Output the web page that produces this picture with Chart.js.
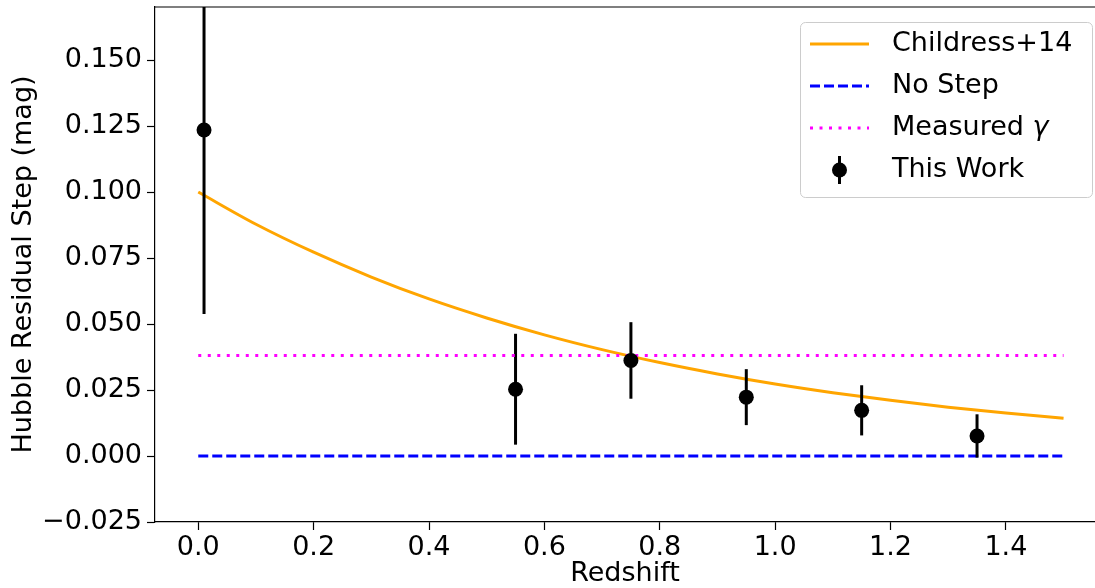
<!DOCTYPE html>
<html>
<head>
<meta charset="utf-8">
<title>Hubble Residual Step vs Redshift</title>
<script src="https://cdn.jsdelivr.net/npm/chart.js@4.4.1/dist/chart.umd.min.js"></script>
<style>
  html, body { margin: 0; padding: 0; background: #fff; overflow: hidden; }
  #wrap { width: 1095px; height: 588px; }
</style>
</head>
<body>
<div id="wrap"><canvas id="stepChart" width="1095" height="588"></canvas></div>
<script>
// Childress+14 model curve
const modelZ = [0.0, 0.1, 0.2, 0.3, 0.4, 0.5, 0.6, 0.7, 0.8, 0.9, 1.0, 1.1, 1.2, 1.3, 1.4, 1.5];
const modelStep = [0.1000, 0.0878, 0.0772, 0.0678, 0.0595, 0.0523, 0.0459, 0.0403,
                   0.0354, 0.0311, 0.0273, 0.0240, 0.0211, 0.0185, 0.0163, 0.0143];

// flat reference lines
const flatZ = [0.0, 1.5];
const noStep = [0.0, 0.0];
const gammaStep = [0.0381, 0.0381];

// binned measurements with 1-sigma errors
const workZ = [0.01, 0.55, 0.75, 0.95, 1.15, 1.35];
const workStep = [0.1235, 0.0253, 0.0362, 0.0223, 0.0173, 0.0076];
const workErr = [0.0697, 0.0210, 0.0145, 0.0106, 0.0095, 0.0082];

const xTicks = [0.0, 0.2, 0.4, 0.6, 0.8, 1.0, 1.2, 1.4];
const yTicks = [-0.025, 0.0, 0.025, 0.05, 0.075, 0.1, 0.125, 0.15];

const FONT = 'DejaVu Sans';
const FONT_SIZE = 27;

const toPoints = (xs, ys) => xs.map((x, i) => ({ x: x, y: ys[i] }));

const errorBars = {
  id: 'errorBars',
  beforeDatasetDraw(chart, args) {
    // bars sit under the Measured gamma line and the markers
    if (args.index !== 2) return;
    const { ctx, chartArea, scales: { x, y } } = chart;
    ctx.save();
    ctx.beginPath();
    ctx.rect(chartArea.left, chartArea.top, chartArea.width, chartArea.height);
    ctx.clip();
    ctx.strokeStyle = '#000';
    ctx.lineWidth = 3;
    workZ.forEach((z, i) => {
      const px = x.getPixelForValue(z);
      ctx.beginPath();
      ctx.moveTo(px, y.getPixelForValue(workStep[i] - workErr[i]));
      ctx.lineTo(px, y.getPixelForValue(workStep[i] + workErr[i]));
      ctx.stroke();
    });
    ctx.restore();
  }
};

const frame = {
  id: 'frame',
  afterDraw(chart) {
    const { ctx, chartArea } = chart;
    ctx.save();
    ctx.strokeStyle = '#000';
    ctx.lineWidth = 1.2;
    ctx.beginPath();
    ctx.moveTo(chartArea.left, chartArea.top);
    ctx.lineTo(chartArea.right, chartArea.top);
    ctx.stroke();
    ctx.restore();
  }
};

const legendBox = {
  id: 'legendBox',
  afterDraw(chart) {
    const { ctx, chartArea } = chart;
    const width = 292;
    const height = 175;
    const left = chartArea.right - 3 - width;
    const top = chartArea.top + 15;
    const rowGap = 42;
    const sampleX0 = left + 10;
    const sampleX1 = left + 69;
    const textX = left + 92;
    const normal = `${FONT_SIZE}px "${FONT}"`;

    ctx.save();
    ctx.fillStyle = 'rgba(255,255,255,0.8)';
    ctx.strokeStyle = '#cccccc';
    ctx.lineWidth = 1;
    ctx.beginPath();
    ctx.roundRect(left + 0.5, top + 0.5, width, height, 5);
    ctx.fill();
    ctx.stroke();

    ctx.textBaseline = 'middle';
    ctx.textAlign = 'left';

    chart.data.datasets.forEach((ds, i) => {
      const cy = top + 22 + i * rowGap;
      if (ds.showLine) {
        ctx.strokeStyle = ds.borderColor;
        ctx.lineWidth = ds.borderWidth;
        ctx.setLineDash(ds.borderDash || []);
        ctx.beginPath();
        ctx.moveTo(sampleX0, cy);
        ctx.lineTo(sampleX1, cy);
        ctx.stroke();
        ctx.setLineDash([]);
      } else {
        // errorbar marker
        const cx = (sampleX0 + sampleX1) / 2;
        ctx.strokeStyle = '#000';
        ctx.lineWidth = 3;
        ctx.beginPath();
        ctx.moveTo(cx, cy - 14);
        ctx.lineTo(cx, cy + 14);
        ctx.stroke();
        ctx.fillStyle = '#000';
        ctx.beginPath();
        ctx.arc(cx, cy, 7.5, 0, Math.PI * 2);
        ctx.fill();
      }
      ctx.fillStyle = '#000';
      ctx.font = normal;
      if (ds.label === 'Measured γ') {
        const head = 'Measured ';
        ctx.fillText(head, textX, cy);
        const headWidth = ctx.measureText(head).width;
        ctx.font = `italic ${FONT_SIZE}px "${FONT}"`;
        ctx.fillText('γ', textX + headWidth, cy);
      } else {
        ctx.fillText(ds.label, textX, cy);
      }
    });
    ctx.restore();
  }
};

const tickFont = { family: FONT, size: FONT_SIZE };

const chartConfig = {
  type: 'scatter',
  data: {
    datasets: [
      {
        label: 'Childress+14',
        data: toPoints(modelZ, modelStep),
        showLine: true,
        borderColor: '#ffa500',
        borderWidth: 3,
        pointRadius: 0,
        cubicInterpolationMode: 'monotone',
        order: 4
      },
      {
        label: 'No Step',
        data: toPoints(flatZ, noStep),
        showLine: true,
        borderColor: '#0000ff',
        borderWidth: 3,
        borderDash: [10, 4],
        pointRadius: 0,
        order: 3
      },
      {
        label: 'Measured γ',
        data: toPoints(flatZ, gammaStep),
        showLine: true,
        borderColor: '#ff00ff',
        borderWidth: 3,
        borderDash: [3, 6.5],
        pointRadius: 0,
        order: 2
      },
      {
        label: 'This Work',
        data: toPoints(workZ, workStep),
        showLine: false,
        backgroundColor: '#000',
        borderColor: '#000',
        borderWidth: 0,
        pointRadius: 7.5,
        order: 1
      }
    ]
  },
  options: {
    responsive: false,
    animation: false,
    devicePixelRatio: 1,
    layout: { autoPadding: false, padding: { top: 7, right: 0, bottom: 0, left: 0 } },
    plugins: {
      legend: { display: false },
      tooltip: { enabled: false }
    },
    scales: {
      x: {
        type: 'linear',
        min: -0.075,
        max: 1.5545,
        afterBuildTicks: axis => { axis.ticks = xTicks.map(v => ({ value: v })); },
        afterFit: axis => {
          axis.height = 66;
          axis.paddingLeft = 0;
          axis.paddingRight = 0;
        },
        grid: { drawOnChartArea: false, tickLength: 8, tickColor: '#000', tickWidth: 1.2 },
        border: { color: '#000', width: 1.2 },
        ticks: {
          color: '#000',
          font: tickFont,
          padding: 2,
          maxRotation: 0,
          callback: value => value.toFixed(1)
        },
        title: {
          display: true,
          text: 'Redshift',
          color: '#000',
          font: { family: FONT, size: FONT_SIZE, lineHeight: 1 },
          padding: { top: 0, bottom: 1 }
        }
      },
      y: {
        type: 'linear',
        min: -0.025,
        max: 0.1701,
        afterBuildTicks: axis => { axis.ticks = yTicks.map(v => ({ value: v })); },
        afterFit: axis => {
          axis.width = 155;
          axis.paddingTop = 0;
          axis.paddingBottom = 0;
        },
        grid: { drawOnChartArea: false, tickLength: 8, tickColor: '#000', tickWidth: 1.2 },
        border: { color: '#000', width: 1.2 },
        ticks: {
          color: '#000',
          font: tickFont,
          padding: 5,
          callback: value => (value < 0 ? '\u2212' : '') + Math.abs(value).toFixed(3)
        },
        title: {
          display: true,
          text: 'Hubble Residual Step (mag)',
          color: '#000',
          font: { family: FONT, size: FONT_SIZE, lineHeight: 1.2 },
          padding: { top: 8, bottom: 0 }
        }
      }
    }
  },
  plugins: [errorBars, frame, legendBox]
};

const ctx = document.getElementById('stepChart').getContext('2d');
const stepChart = new Chart(ctx, chartConfig);
</script>
</body>
</html>
